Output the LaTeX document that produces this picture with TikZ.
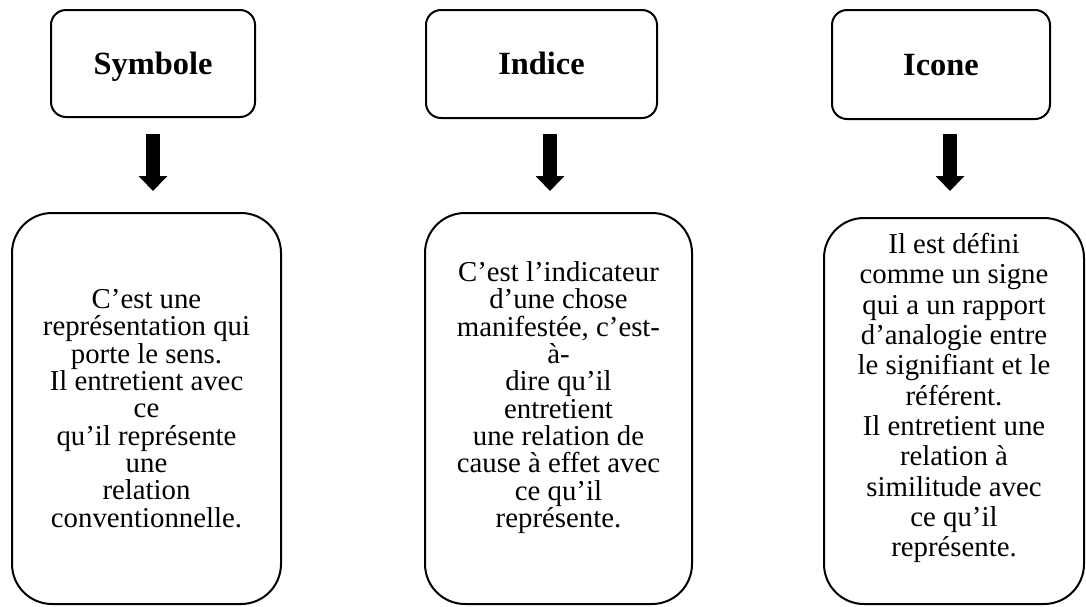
\documentclass[tikz,border=0pt]{standalone}
\usepackage{fontspec}
\setmainfont{Liberation Serif}
\usepackage{tikz}
\usetikzlibrary{arrows.meta}

\tikzset{
  headbox/.style={draw, line width=1pt, rounded corners=7.5pt, align=center,
    inner sep=0pt, text height=10.7pt, text depth=0pt,
    font=\fontsize{16.2}{19}\selectfont\bfseries},
  defbox/.style={draw, line width=1pt, rounded corners=20pt, align=center,
    inner sep=0pt},
  bigarrow/.style={line width=7pt, -{Triangle[width=14pt,length=7.5pt]},
    shorten <=8pt, shorten >=10.5pt}
}

\begin{document}
\begin{tikzpicture}[x=0.5pt,y=-0.5pt]
        \useasboundingbox (0,0) rectangle (1086,606);
        % the three signs
        \node[headbox, minimum width=102pt, minimum height=53.5pt] (sym) at (153,63.5) {Symbole};
        \node[headbox, minimum width=115.5pt, minimum height=54pt] (ind) at (541.5,64) {Indice};
        \node[headbox, minimum width=109pt, minimum height=54.5pt] (ico) at (941,64.5) {Icone};
        % their definitions
        \node[defbox, minimum width=134.5pt, minimum height=195.5pt,
          font=\fontsize{14.4}{13.65}\selectfont] (symdef) at (146.5,408.5)
          {C’est une\\représentation qui\\porte le sens.\\Il entretient avec\\ce\\qu’il représente\\une\\relation\\conventionnelle.};
        \node[defbox, minimum width=133.5pt, minimum height=195.5pt, text depth=14pt,
          font=\fontsize{14.4}{13.65}\selectfont] (inddef) at (558.5,408.5)
          {C’est l’indicateur\\d’une chose\\manifestée, c’est-\\à-\\dire qu’il\\entretient\\une relation de\\cause à effet avec\\ce qu’il\\représente.};
        \node[defbox, minimum width=130pt, minimum height=193pt, text depth=16pt,
          font=\fontsize{14.4}{15.15}\selectfont] (icodef) at (954,411)
          {Il est défini\\comme un signe\\qui a un rapport\\d’analogie entre\\le signifiant et le\\référent.\\Il entretient une\\relation à\\similitude avec\\ce qu’il\\représente.};
        % arrows
        \draw[bigarrow] (sym.south) -- (sym.south |- symdef.north);
        \draw[bigarrow, shorten <=7.5pt] ([xshift=4.25pt]ind.south) -- ([xshift=4.25pt]ind.south |- inddef.north);
        \draw[bigarrow, shorten <=7pt, shorten >=13pt] ([xshift=4.5pt]ico.south) -- ([xshift=4.5pt]ico.south |- icodef.north);
\end{tikzpicture}
\end{document}
